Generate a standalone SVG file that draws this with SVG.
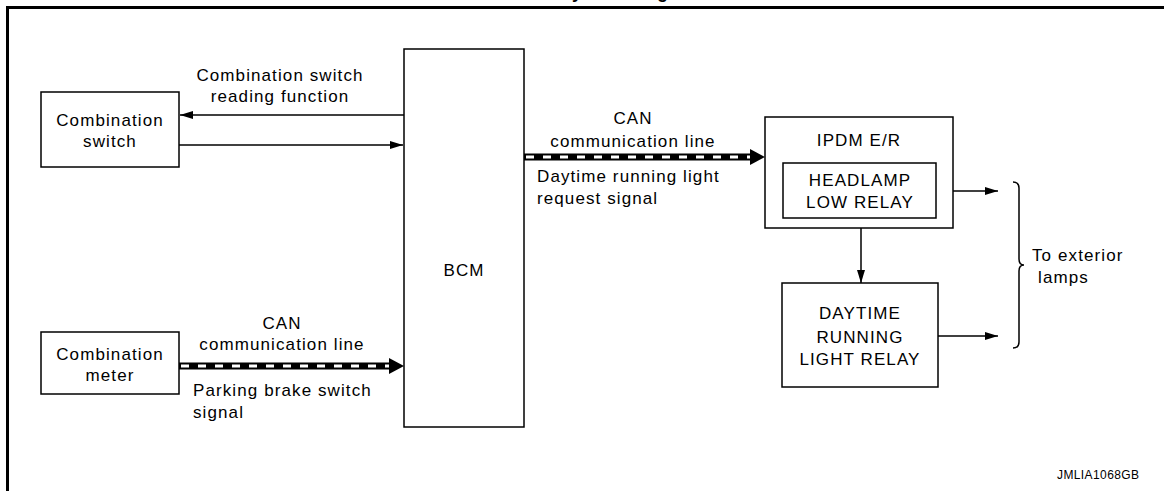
<svg xmlns="http://www.w3.org/2000/svg" width="1164" height="491" viewBox="0 0 1164 491">
<style>
text{font-family:"Liberation Sans",Arial,sans-serif;font-size:17px;letter-spacing:1.1px;fill:#000}
.c{text-anchor:middle}
.box{fill:#fff;stroke:#000;stroke-width:1.5}
.ln{stroke:#000;stroke-width:1.5;fill:none}
.canb{stroke:#000;stroke-width:7;fill:none}
.canw{stroke:#fff;stroke-width:3;stroke-dasharray:8 9;fill:none}
.small{font-size:12px;letter-spacing:0.4px}
.title{font-size:18px;font-weight:bold;letter-spacing:0}
</style>
<defs>
<marker id="ah" viewBox="0 0 13 8" refX="13" refY="4" markerWidth="13" markerHeight="8" markerUnits="userSpaceOnUse" orient="auto">
<path d="M0,0 L13,4 L0,8 Z" fill="#000"/>
</marker>
</defs>
<rect width="1164" height="491" fill="#fff"/>
<text class="title" x="560" y="-2.5">System Diagram</text>
<path d="M7.5,491 V7.5 H1164" fill="none" stroke="#000" stroke-width="3"/>

<g id="connectors">
<line class="ln" x1="404" y1="115" x2="180" y2="115" marker-end="url(#ah)"/>
<line class="ln" x1="179" y1="145" x2="403" y2="145" marker-end="url(#ah)"/>
<line class="canb" x1="179" y1="366" x2="390" y2="366"/>
<line class="canw" x1="181" y1="366" x2="390" y2="366"/>
<path d="M389,358 L404,366 L389,374 Z" fill="#000"/>
<line class="canb" x1="524" y1="157" x2="751" y2="157"/>
<line class="canw" x1="526" y1="157" x2="751" y2="157"/>
<path d="M750,149 L765,157 L750,165 Z" fill="#000"/>
<line class="ln" x1="936" y1="191" x2="998" y2="191" marker-end="url(#ah)"/>
<line class="ln" x1="861" y1="228" x2="861" y2="283" marker-end="url(#ah)"/>
<line class="ln" x1="938" y1="336" x2="998" y2="336" marker-end="url(#ah)"/>
<path class="ln" d="M1013,182 Q1019,182 1019,188 V259 Q1019,265 1024,265 Q1019,265 1019,271 V342 Q1019,348 1013,348"/>
</g>

<g id="lbl-switch-read">
<text class="c" x="280" y="81">Combination switch</text>
<text class="c" x="280" y="102">reading function</text>
</g>
<g id="lbl-can-meter">
<text class="c" x="282" y="329">CAN</text>
<text class="c" x="282" y="350">communication line</text>
<text x="193" y="396">Parking brake switch</text>
<text x="193" y="418">signal</text>
</g>
<g id="lbl-can-ipdm">
<text class="c" x="633" y="124">CAN</text>
<text class="c" x="633" y="147">communication line</text>
<text x="537" y="182">Daytime running light</text>
<text x="537" y="204">request signal</text>
</g>
<g id="lbl-exterior">
<text x="1032" y="261">To exterior</text>
<text x="1038" y="283">lamps</text>
</g>

<g id="combination-switch">
<rect class="box" x="41" y="92" width="138" height="75"/>
<text class="c" x="110" y="126">Combination</text>
<text class="c" x="110" y="147">switch</text>
</g>
<g id="combination-meter">
<rect class="box" x="41" y="332" width="138" height="62"/>
<text class="c" x="110" y="360">Combination</text>
<text class="c" x="110" y="381">meter</text>
</g>
<g id="bcm">
<rect class="box" x="404" y="49" width="120" height="378"/>
<text class="c" x="464" y="276">BCM</text>
</g>
<g id="ipdm">
<rect class="box" x="765" y="117" width="188" height="111"/>
<text class="c" x="859" y="146">IPDM E/R</text>
</g>
<g id="headlamp-low-relay">
<rect class="box" x="783" y="163" width="153" height="55"/>
<text class="c" x="860" y="186">HEADLAMP</text>
<text class="c" x="860" y="208">LOW RELAY</text>
</g>
<g id="drl-relay">
<rect class="box" x="782" y="283" width="156" height="104"/>
<text class="c" x="860" y="319">DAYTIME</text>
<text class="c" x="860" y="343">RUNNING</text>
<text class="c" x="860" y="365">LIGHT RELAY</text>
</g>
<text class="small" x="1057" y="479">JMLIA1068GB</text>
</svg>
